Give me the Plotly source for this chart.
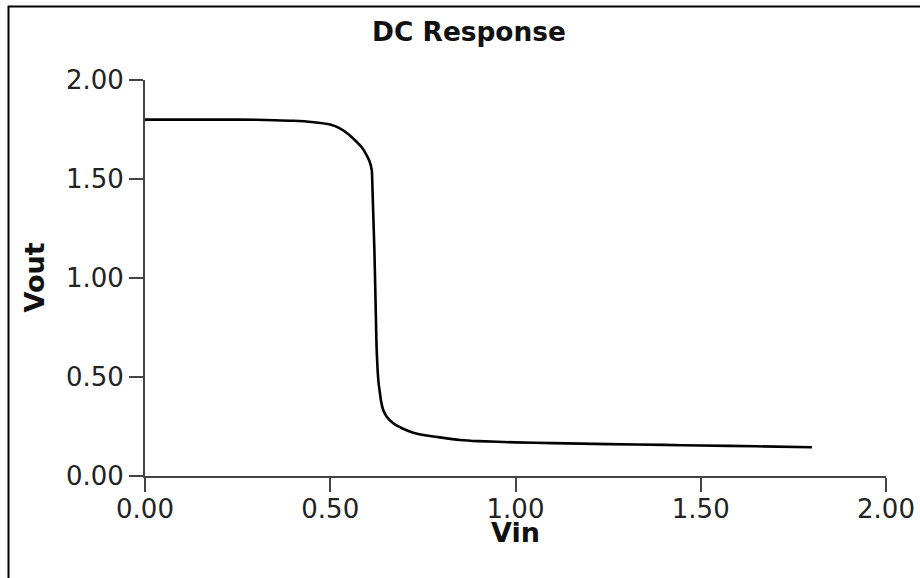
import plotly.graph_objects as go

vin = [0, 0.1, 0.2, 0.3, 0.35, 0.4, 0.45, 0.5, 0.526, 0.55, 0.571, 0.585, 0.598, 0.606,
       0.612, 0.614, 0.616, 0.619, 0.621, 0.623, 0.625, 0.628, 0.631, 0.633, 0.637, 0.643,
       0.652, 0.670, 0.695, 0.724, 0.76, 0.796, 0.85, 0.9, 1.0, 1.1, 1.25, 1.4, 1.5, 1.65, 1.8]
vout = [1.8, 1.8, 1.8, 1.799, 1.797, 1.794, 1.788, 1.775, 1.756, 1.725, 1.688, 1.66, 1.621, 1.59,
        1.545, 1.45, 1.327, 1.15, 0.99, 0.82, 0.653, 0.53, 0.46, 0.434, 0.38, 0.333,
        0.30, 0.266, 0.24, 0.219, 0.205, 0.195, 0.182, 0.176, 0.170, 0.166, 0.161, 0.157, 0.154, 0.150, 0.145]

tick_vals = [0, 0.5, 1.0, 1.5, 2.0]
tick_text = ["0.00", "0.50", "1.00", "1.50", "2.00"]

FONT = "DejaVu Sans"

fig = go.Figure()
fig.add_trace(go.Scatter(x=vin, y=vout, mode="lines",
                         line=dict(color="#000000", width=2.6, shape="spline", smoothing=0.6),
                         hoverinfo="skip", showlegend=False))

axis_common = dict(
    showgrid=False, zeroline=False, showline=True, linecolor="#444444", linewidth=2,
    ticks="outside", ticklen=14, tickwidth=2, tickcolor="#444444",
    tickvals=tick_vals, ticktext=tick_text,
    tickfont=dict(family=FONT, size=26, color="#222222"),
    range=[0, 2], fixedrange=True, automargin=False,
)

fig.update_layout(
    width=920, height=578,
    margin=dict(l=145, r=34, t=80, b=102, autoexpand=False),
    paper_bgcolor="white", plot_bgcolor="white",
    font=dict(family=FONT, color="#111111"),
    title=dict(text="<b>DC Response</b>", x=469 / 920, xref="container", xanchor="center",
               y=1 - 32 / 578, yref="container", yanchor="middle",
               font=dict(family=FONT, size=26.4, color="#111111")),
    xaxis=dict(**axis_common, ticklabelstandoff=-5),
    yaxis=dict(**axis_common),
    annotations=[
        dict(text="<b>Vin</b>", xref="paper", yref="paper", x=0.5, y=(476 - 532) / 396,
             xanchor="center", yanchor="middle", showarrow=False,
             font=dict(family=FONT, size=27, color="#111111")),
        dict(text="<b>Vout</b>", xref="paper", yref="paper", x=(33.5 - 145) / 741, y=0.5,
             xanchor="center", yanchor="middle", showarrow=False, textangle=-90,
             font=dict(family=FONT, size=27, color="#111111")),
    ],
    shapes=[dict(type="rect", xref="paper", yref="paper",
                 x0=(8.5 - 145) / 741, x1=2, y0=-2, y1=(476 - 6.5) / 396,
                 line=dict(color="#000000", width=2), fillcolor="rgba(0,0,0,0)", layer="below")],
)

fig.write_html("out.html", config={"displayModeBar": False},
               post_script="document.body.style.margin='0';document.body.style.overflow='hidden';")
